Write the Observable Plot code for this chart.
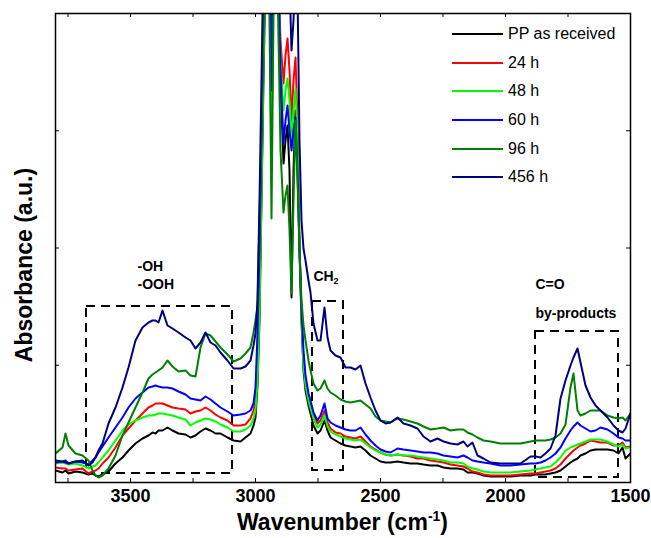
<!DOCTYPE html>
<html><head><meta charset="utf-8">
<script src="https://cdn.jsdelivr.net/npm/d3@7"></script>
<script src="https://cdn.jsdelivr.net/npm/@observablehq/plot@0.6"></script>
<style>
body{margin:0;background:#fff;}
#wrap{position:relative;width:651px;height:538px;font-family:"Liberation Sans",Arial,sans-serif;color:#000;}
#legend{position:absolute;left:452px;top:19.7px;}
.row{display:flex;align-items:center;height:28.7px;font-size:16px;}
.sw{width:51px;height:2px;margin-right:5px;}
</style></head><body><div id="wrap"><div id="legend"></div></div>
<script>
// Wavenumber grid (cm-1)
const wavenumber = [3800,3772,3760,3748,3720,3692,3668,3652,3640,3628,
3612,3588,3560,3532,3508,3480,3452,3428,3412,3400,
3388,3372,3352,3332,3308,3280,3260,3240,3220,3200,
3180,3160,3140,3112,3088,3060,3040,3020,3008,3000,
2992,2984,2976,2968,2960,2948,2936,2924,2912,2900,
2888,2880,2872,2864,2856,2848,2840,2832,2824,2816,
2808,2800,2788,2780,2768,2752,2740,2724,2712,2700,
2680,2660,2640,2620,2600,2580,2560,2540,2520,2500,
2480,2460,2432,2408,2380,2352,2328,2300,2272,2248,
2220,2192,2168,2152,2132,2112,2088,2060,2020,1980,
1940,1900,1880,1860,1840,1820,1800,1780,1760,1740,
1728,1712,1700,1680,1660,1640,1620,1592,1568,1548,
1532,1520,1500];

// Absorbance (a.u.) per sample
const ppReceived = [12,10,12,9,11,10,8,9,7,6,
8,11,19,25,32,39,44,47,50,49,
52,52,55,52,49,48,45,47,51,54,
52,49,49,45,42,41,45,49,57,65,
97,162,282,402,512,632,332,602,522,402,
319,342,357,312,185,312,372,322,232,162,
112,92,77,69,57,49,52,62,52,45,
42,39,37,36,35,36,32,27,24,21,
20,20,21,20,19,19,18,17,17,15,
14,14,13,10,10,9,7,6,6,6,
7,7,8,8,8,9,10,12,16,20,
22,24,27,29,32,33,33,33,32,29,
35,24,29];
const h24 = [15,14,14,12,13,14,9,11,12,14,
19,25,35,47,54,62,69,75,77,79,
79,79,77,75,74,73,69,71,72,75,
72,68,65,62,57,57,58,64,72,82,
112,182,302,432,522,632,382,612,532,442,
399,427,444,412,362,402,425,362,242,167,
122,102,86,79,67,59,62,72,60,54,
50,49,46,45,44,46,41,36,33,30,
28,27,28,27,26,24,24,22,21,20,
18,17,16,14,11,10,8,7,7,7,
8,9,9,10,11,12,14,18,24,29,
32,35,37,39,42,41,40,40,37,37,
40,35,36];
const h48 = [19,20,19,18,19,17,14,16,17,20,
25,32,42,52,58,62,65,67,67,68,
69,69,68,67,65,63,57,60,62,64,
63,61,58,55,51,51,53,57,64,72,
102,172,292,422,522,632,362,612,532,422,
372,392,404,382,342,372,394,342,237,164,
117,97,82,74,64,55,58,67,56,51,
48,46,44,43,42,43,39,35,32,30,
28,27,28,27,27,26,25,24,23,22,
20,20,19,16,14,13,11,10,10,10,
11,12,13,14,15,16,20,25,32,35,
36,38,39,41,43,43,43,41,38,36,
38,34,35];
const h60 = [20,21,22,19,21,20,18,22,25,30,
36,45,55,65,75,84,90,95,96,97,
96,95,95,94,91,88,84,83,82,86,
83,79,75,71,67,68,69,72,79,95,
149,232,342,462,542,652,392,632,552,412,
339,362,377,352,332,352,365,312,232,172,
132,107,89,82,70,62,67,79,64,60,
57,55,53,52,52,55,48,42,37,33,
31,30,34,33,32,31,30,30,29,27,
26,25,27,25,22,21,20,19,17,17,
18,19,19,20,22,25,29,35,44,52,
56,60,57,54,51,52,55,53,49,45,
44,42,42];
const h96 = [29,35,49,37,29,27,22,12,7,5,
7,14,27,47,60,75,90,104,108,110,
112,115,122,116,111,112,107,106,135,149,
147,141,135,128,121,124,129,135,150,162,
175,262,352,452,522,562,264,572,502,332,
270,287,297,252,189,282,362,302,232,182,
157,142,122,112,99,92,94,102,94,90,
87,83,81,80,81,82,78,74,66,62,
61,60,64,63,61,59,56,53,54,55,
52,53,53,50,48,45,42,41,39,39,
39,41,42,42,42,43,45,49,58,95,
109,72,67,69,72,72,72,67,65,64,
65,62,69];
const h456 = [22,21,20,19,21,22,17,20,25,32,
39,59,75,95,115,142,155,160,162,162,
160,172,157,154,150,145,142,134,140,150,
140,137,130,122,114,114,116,122,137,149,
182,282,402,532,602,682,582,682,632,562,
522,542,562,502,432,462,522,492,342,262,
234,222,202,190,159,142,142,175,145,132,
127,125,115,115,113,117,99,85,72,62,
59,60,65,59,57,54,46,41,44,41,
39,38,41,36,40,27,24,20,19,19,
19,26,26,25,29,34,47,84,102,117,
125,134,120,97,85,77,72,65,57,52,
50,54,69];

const seriesNames = ["PP as received","24 h","48 h","60 h","96 h","456 h"];
const seriesValues = [ppReceived,h24,h48,h60,h96,h456];
const seriesColors = ["#000000","#ff0000","#00ff00","#0000ff","#008000","#000080"];

const xMajorTicks = [3500,3000,2500,2000,1500];
const xAllTicks = [3750,3500,3250,3000,2750,2500,2250,2000,1750,1500];
const yTicks = [117.25,234.5,351.75];

// Dashed highlight regions
const regionX1 = [3676,2772,1880];
const regionX2 = [3092,2648,1548];
const regionY1 = [9,12,5];
const regionY2 = [176,181,151];

// Annotations
const noteText = ["-OH","-OOH","CH","C=O","by-products"];
const noteX = [3472,3472,2768,1880,1880];
const noteY = [212,194,202,194,165];
const subText = ["2"];
const subX = [2768];
const subY = [202];

const table = [];
seriesNames.forEach((name, s) => {
  wavenumber.forEach((w, i) => table.push({series: name, wavenumber: w, absorbance: seriesValues[s][i]}));
});
const regions = regionX1.map((d, i) => ({x1: d, x2: regionX2[i], y1: regionY1[i], y2: regionY2[i]}));
const notes = noteText.map((t, i) => ({text: t, x: noteX[i], y: noteY[i]}));
const subs = subText.map((t, i) => ({text: t, x: subX[i], y: subY[i]}));

const W = 651, H = 538, mL = 55, mR = 21, mT = 13, mB = 56;
const innerW = W - mL - mR, innerH = H - mT - mB;
const tk = 4;

const plot = Plot.plot({
  width: W, height: H,
  marginLeft: mL, marginRight: mR, marginTop: mT, marginBottom: mB,
  style: {fontFamily: "'Liberation Sans', Arial, sans-serif", background: "white", color: "black"},
  x: {domain: [3800, 1500]},
  y: {domain: [0, 469], axis: null},
  color: {domain: seriesNames, range: seriesColors},
  marks: [
    Plot.rect(regions, {x1: "x1", x2: "x2", y1: "y1", y2: "y2", fill: "none", stroke: "black", strokeWidth: 2, strokeDasharray: "9,6"}),
    Plot.line(table, {x: "wavenumber", y: "absorbance", z: "series", stroke: "series", strokeWidth: 2, clip: true, strokeLinejoin: "round"}),
    Plot.text(notes, {x: "x", y: "y", text: "text", textAnchor: "start", lineAnchor: "bottom", fontSize: 14, fontWeight: "bold", fill: "black"}),
    Plot.text(subs, {x: "x", y: "y", text: "text", textAnchor: "start", lineAnchor: "bottom", fontSize: 9, fontWeight: "bold", fill: "black", dx: 20, dy: 3}),
    Plot.ruleX(xAllTicks, {x: d => d, insetTop: innerH - tk, stroke: "black", strokeWidth: 1}),
    Plot.ruleX(xAllTicks, {x: d => d, insetBottom: innerH - tk, stroke: "black", strokeWidth: 1}),
    Plot.ruleY(yTicks, {y: d => d, insetRight: innerW - tk, stroke: "black", strokeWidth: 1}),
    Plot.ruleY(yTicks, {y: d => d, insetLeft: innerW - tk, stroke: "black", strokeWidth: 1}),
    Plot.axisX({ticks: xMajorTicks, tickSize: 0, tickPadding: 7, fontSize: 18, fontWeight: "bold", tickFormat: d => String(d), label: null}),
    Plot.frame({stroke: "black", strokeWidth: 1.5})
  ]
});

const svg = d3.select(plot);
// x title with superscript
const xt = svg.append("text").attr("x", mL + innerW / 2).attr("y", 530)
  .attr("text-anchor", "middle").attr("font-size", 23).attr("font-weight", "bold").attr("fill", "black");
xt.append("tspan").text("Wavenumber (cm");
xt.append("tspan").attr("dy", -9).attr("font-size", 14).text("-1");
xt.append("tspan").attr("dy", 9).text(")");
// y title
svg.append("text").attr("transform", "translate(32,265) rotate(-90)")
  .attr("text-anchor", "middle").attr("font-size", 23).attr("font-weight", "bold").attr("fill", "black")
  .text("Absorbance (a.u.)");

document.getElementById("wrap").appendChild(plot);

const legend = d3.select("#legend");
seriesNames.forEach((n, i) => {
  const r = legend.append("div").attr("class", "row");
  r.append("div").attr("class", "sw").style("background", seriesColors[i]);
  r.append("span").text(n);
});
</script></body></html>
